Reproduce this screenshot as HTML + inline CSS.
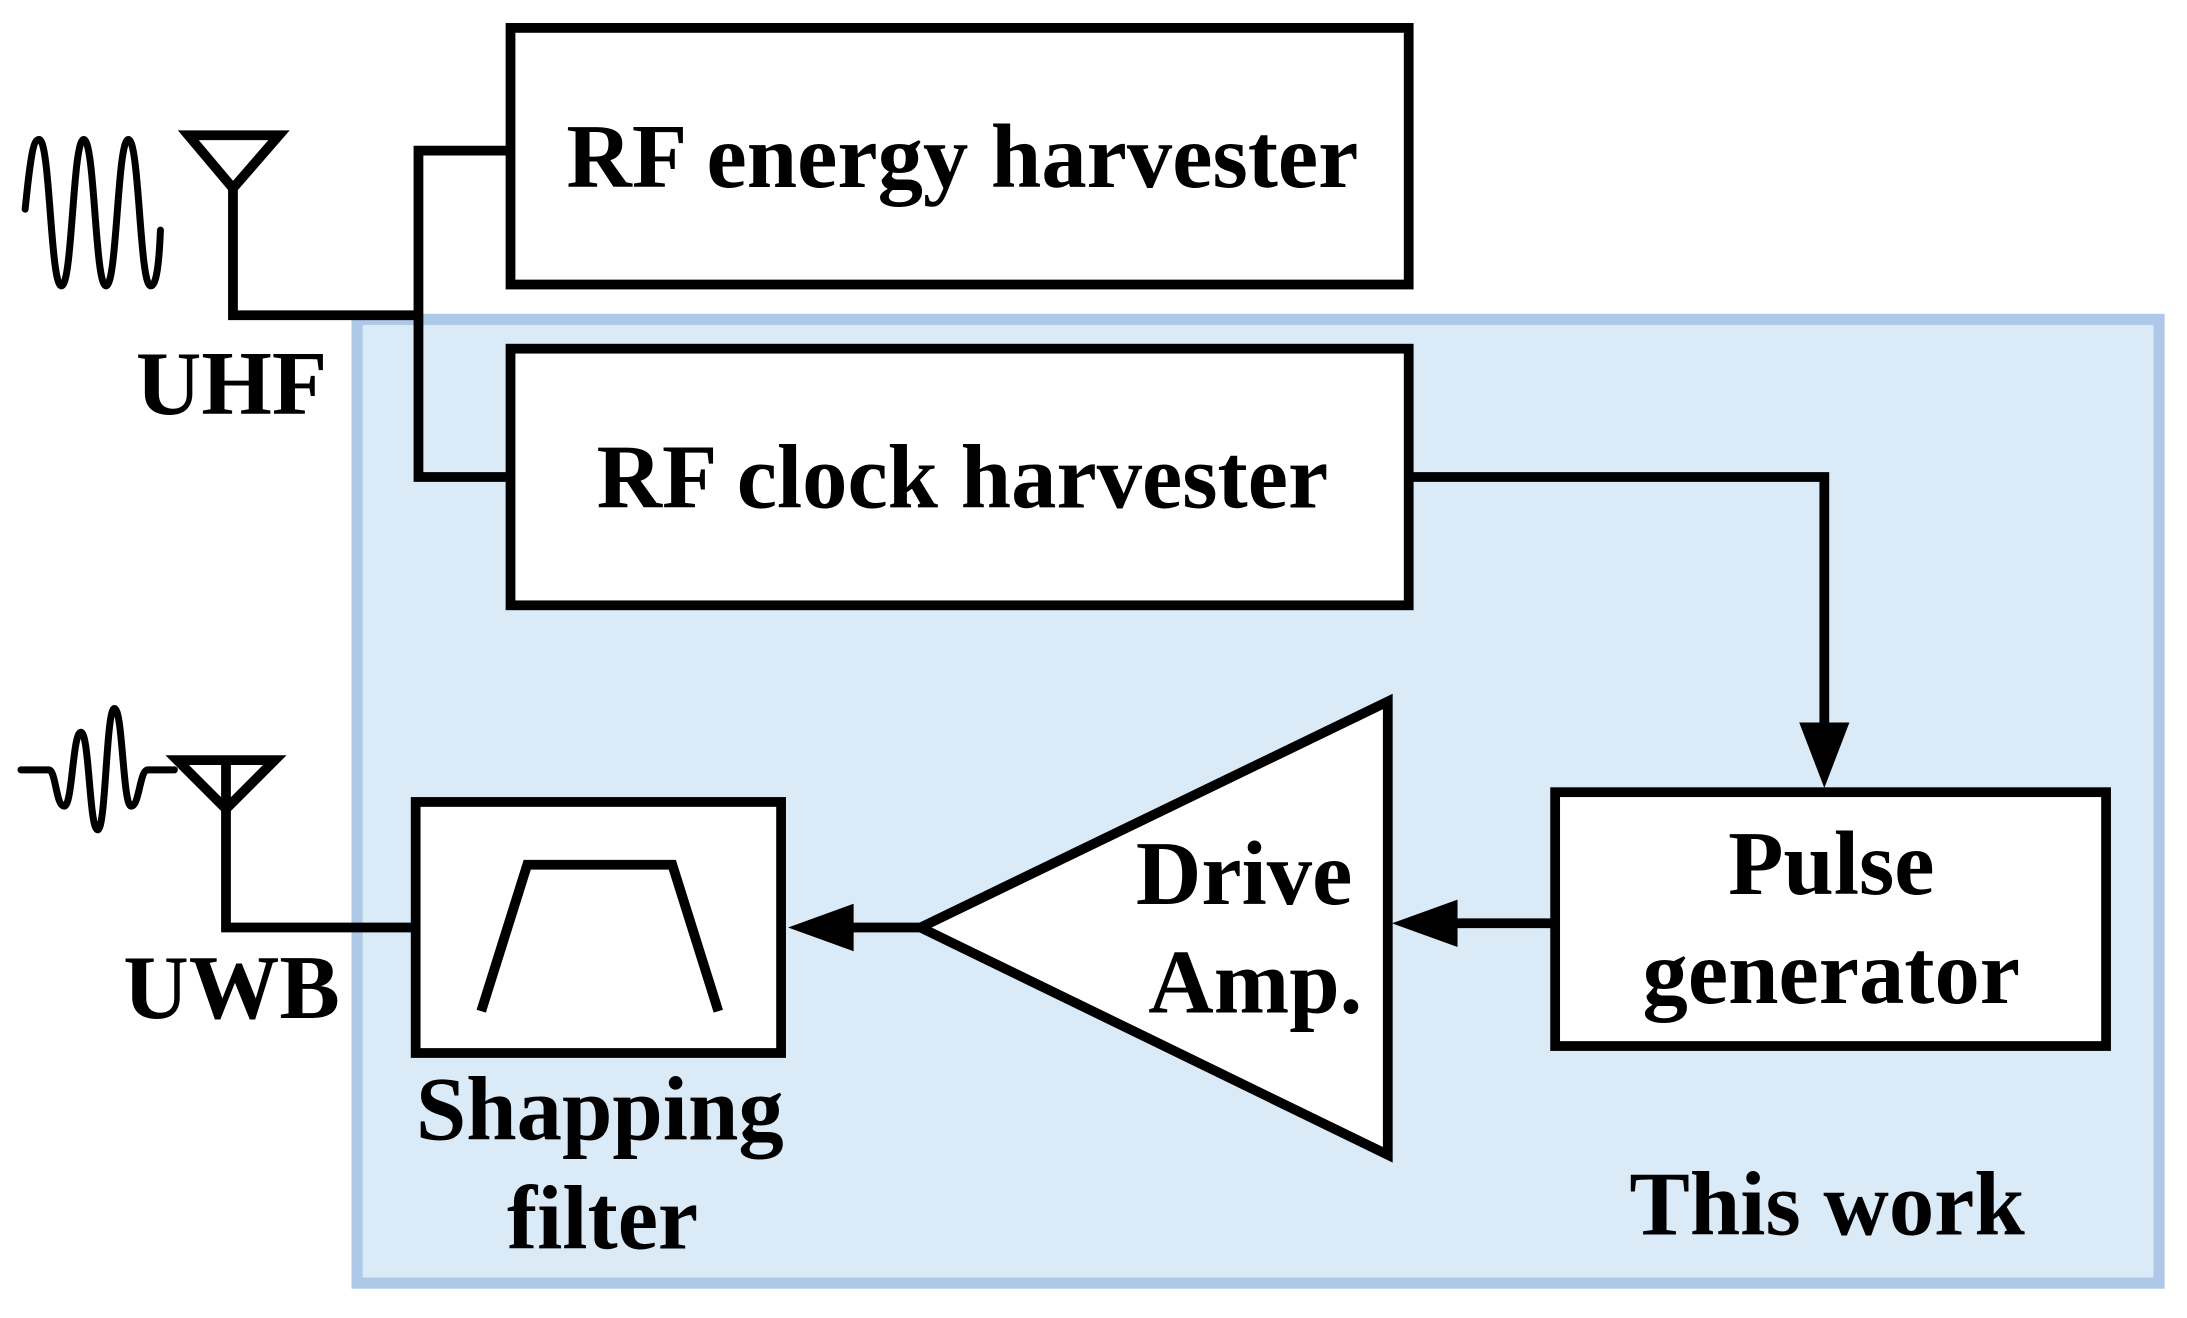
<!DOCTYPE html>
<html><head><style>html,body{margin:0;padding:0;background:#fff}svg{display:block}</style></head><body>
<svg width="2187" height="1318" viewBox="0 0 1568 945" xmlns="http://www.w3.org/2000/svg" font-family="Liberation Serif, serif" font-weight="bold">
<rect x="256" y="229" width="1292" height="691" fill="#dbeaf7" stroke="#aec8e8" stroke-width="8"/>
<g fill="none" stroke="#000" stroke-width="7" stroke-linejoin="miter">
<rect x="366" y="20" width="644" height="184" fill="#fff"/>
<rect x="366" y="250" width="644" height="184" fill="#fff"/>
<rect x="1115" y="568" width="395" height="182" fill="#fff"/>
<rect x="298" y="575" width="262" height="180" fill="#fff"/>
<polygon points="995,503 995,828 660,665" fill="#fff"/>
<polyline points="345,725 378,620 482,620 515,725"/>
<polygon points="135,97 200,97 167,135"/>
<polyline points="167,135 167,226 300,226"/>
<polyline points="366,108 300,108 300,342 366,342"/>
<polygon points="127,545 197,545 162,580"/>
<line x1="162" y1="545" x2="162" y2="580"/>
<polyline points="162,580 162,665 298,665"/>
<polyline points="1010,342 1308,342 1308,525"/>
<line x1="1115" y1="662" x2="1040" y2="662"/>
<line x1="660" y1="665" x2="610" y2="665"/>
</g>
<polygon points="1290,518 1326,518 1308,565" fill="#000"/>
<polygon points="1045,645 1045,679 998,662" fill="#000"/>
<polygon points="612,648 612,682 565,665" fill="#000"/>
<path d="M18,150 C22,110 24,100 28,100 C36,100 36,205 44,205 C52,205 52,100 60,100 C68,100 68,205 76,205 C84,205 84,100 92,100 C100,100 100,205 108,205 C112,205 114,190 115,165" fill="none" stroke="#000" stroke-width="5" stroke-linecap="round"/>
<path d="M15,552 L35,552 C40,552 40,578 46,578 C52,578 52,525 58,525 C64,525 64,595 70,595 C76,595 76,508 82,508 C88,508 88,578 94,578 C100,578 100,552 106,552 L125,552" fill="none" stroke="#000" stroke-width="5" stroke-linecap="round"/>
<g font-size="65" text-anchor="middle" fill="#000">
<text x="690" y="134">RF energy harvester</text>
<text x="690" y="364">RF clock harvester</text>
<text x="1313" y="641">Pulse</text>
<text x="1313" y="719">generator</text>
<text x="892" y="648">Drive</text>
<text x="900" y="726">Amp.</text>
<text x="430" y="817">Shapping</text>
<text x="432" y="895">filter</text>
<text x="166" y="297">UHF</text>
<text x="166" y="730">UWB</text>
<text x="1310" y="885">This work</text>
</g>
</svg>
</body></html>
